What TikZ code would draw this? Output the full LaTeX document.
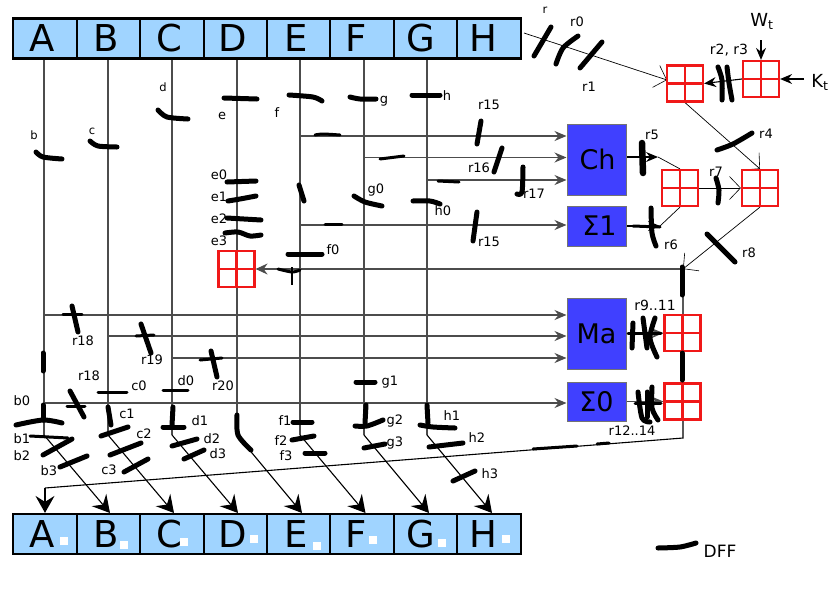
\documentclass[tikz,border=0pt]{standalone}
\usepackage{fontspec}
\setmainfont{DejaVu Sans}
\usetikzlibrary{arrows.meta,backgrounds}
\definecolor{cellblue}{HTML}{A0D4FF}
\definecolor{blockblue}{HTML}{4040FF}
\definecolor{addred}{HTML}{F01818}
\tikzset{
  cell/.style={draw=black,line width=2.2pt,fill=cellblue,minimum height=40pt,inner sep=0pt,font=\fontsize{37}{37}\selectfont},
  block/.style={draw=black!55,line width=1pt,fill=blockblue,minimum width=59pt,inner sep=0pt,font=\fontsize{27}{27}\selectfont},
  adder/.style={draw=addred,line width=2.2pt,minimum size=36pt,inner sep=0pt,
    path picture={\draw[addred,line width=2.2pt] (path picture bounding box.north)--(path picture bounding box.south)
      (path picture bounding box.west)--(path picture bounding box.east);}},
  wire/.style={line width=1.1pt,black!70},
  thinwire/.style={line width=0.7pt,black},
  inar/.style={wire,-{Stealth[length=12pt,width=10pt,inset=4pt]}},
  bigar/.style={line width=1.1pt,black,-{Stealth[length=17pt,width=19pt,inset=6pt]}},
  vee/.style={thinwire,-{Straight Barb[length=11pt,width=23pt,line width=0.6pt]}},
  dff/.style={line width=5pt,black,line cap=round,line join=round},
  dffthin/.style={line width=3pt,black,line cap=round,line join=round},
  small/.style={inner sep=0pt,font=\fontsize{13}{14}\selectfont},
  tiny/.style={inner sep=0pt,font=\fontsize{11.5}{12}\selectfont},
  speck/.style={fill=white,inner sep=0pt,minimum size=7.5pt},
}
\begin{document}
\begin{tikzpicture}[x=1pt,y=-1pt]
\useasboundingbox (0,0) rectangle (836,590);

% registers
\foreach \n/\cx/\w/\s in {A/45/64/-6pt,B/108.5/63/-5pt,C/172/64/-5pt,D/235.5/63/-5pt,E/298.5/63/-5pt,F/362/64/-12pt,G/425.5/63/-10pt,H/489/64/-12pt}{
  \node[cell,minimum width=\w pt] (t\n) at (\cx,38.5) {\hspace*{\s}\n};
  \node[cell,minimum width=\w pt] (b\n) at (\cx,534) {\hspace*{\s}\n};
}

% blocks
\node[block,minimum height=71pt] (ch) at (596.5,159.5) {\hspace*{2pt}Ch};
\node[block,minimum height=40pt] (sone) at (596.5,226) {\hspace*{6pt}Σ1};
\node[block,minimum height=71pt] (ma) at (596.5,333.5) {Ma};
\node[block,minimum height=39pt] (szero) at (596.5,401.5) {Σ0};

% adders
\node[adder] (addh) at (685,83.5) {};
\node[adder] (addwk) at (761,79) {};
\node[adder] (adds) at (680,188) {};
\node[adder] (addt) at (760,188) {};
\node[adder] (adde) at (236.5,269) {};
\node[adder] (addma) at (682.5,333) {};
\node[adder] (addsz) at (682.5,401.5) {};

% named turning points
\foreach \n/\x in {A/44,B/108,C/172,D/237,E/300,F/364,G/427}{
  \coordinate (j\n) at (\x,435);
  \coordinate (s\n) at (\x,60);
}
\coordinate (eB) at (110,513);
\coordinate (eC) at (174,513);
\coordinate (eD) at (238,513);
\coordinate (eE) at (302,513);
\coordinate (eF) at (365.5,513);
\coordinate (eG) at (429,513);
\coordinate (eH) at (492,513);
\coordinate (fb) at (683,269);
\coordinate (fbl) at (683,438);
\coordinate (fbe) at (45,488);
\coordinate (hout) at (524,33);
\coordinate (kin) at (804,79);
\coordinate (win) at (761,40);
\coordinate (addhW) at (667,80);
\coordinate (chO) at (658,157);
\coordinate (soO) at (660,226);

\begin{scope}[on background layer]
  % register columns
  \foreach \n/\m in {A/B,B/C,C/D,D/E,E/F,F/G,G/H}{
    \draw[wire,line join=round] (s\n) -- (j\n);
    \draw[bigar] (j\n) -- (e\m);
  }
  % block inputs
  \draw[inar] (300,136) -- (300,136 -| ch.west);
  \draw[inar] (364,157.5) -- (364,157.5 -| ch.west);
  \draw[inar] (427,180) -- (427,180 -| ch.west);
  \draw[inar] (300,225) -- (300,225 -| sone.west);
  \draw[inar] (44,315) -- (44,315 -| ma.west);
  \draw[inar] (108,336) -- (108,336 -| ma.west);
  \draw[inar] (172,358) -- (172,358 -| ma.west);
  \draw[inar] (44,403) -- (44,403 -| szero.west);
  % feedback
  \draw[wire,-{Stealth[length=12pt,width=11pt,inset=4pt]}] (fb) -- (adde.east);
  \draw[line width=1.1pt,black,line join=miter] (fb) -- (fbl) -- (fbe);
  \draw[bigar] (fbe) -- (bA.north);
  % adders network
  \draw[vee] (hout) -- (addhW);
  \draw[inar,black] (addwk.west) -- (addh.east);
  \draw[inar,black] (kin) -- (addwk.east);
  \draw[inar,black] (win) -- (addwk.north);
  \draw[vee] (addh.south) -- (addt.north);
  \draw[inar,black] (ch.east |- chO) -- (chO);
  \draw[thinwire] (chO) -- (adds.north);
  \draw[inar,black] (sone.east |- soO) -- (soO);
  \draw[thinwire] (soO) -- (adds.south);
  \draw[vee] (adds.east) -- (addt.west);
  \draw[vee] (addt.south) -- (fb);
  \draw[inar] (ma.east) -- (addma.west);
  \draw[inar] (szero.east) -- (addsz.west);
\end{scope}

% DFF strokes
\foreach \p in {
 {(36,152)(43,157)(62,159)},{(90,141)(98,146)(117,147)},{(158,110)(167,117)(188,119)},
 {(224,98)(257,99)},{(289,95)(313,97)(322,101)},{(350,97)(360,99)(376,99)},{(412,95)(440,95)},
 {(227,182)(256,181)},{(228,201)(240,199)(256,196)},{(227,218)(261,220)},{(225,233)(238,232)(250,236)(261,235)},
 {(288,254)(322,254)},{(354,196)(365,202)(382,206)},{(413,201)(430,201)(440,204)},{(299,185)(304,201)},
 {(534,56)(551,27)},{(556,64)(563,48)(578,36)},{(580,68)(602,42)},
 {(718,67)(722,80)(722,100)},{(727,67)(729,83)(732,100)},
 {(481,121)(477,144)},{(502,148)(494,172)},{(523,167)(522,192)(517,194)},{(477,212)(473,241)},
 {(717,150)(733,144)(752,133)},{(716,178)(719,190)(718,203)},
 {(651,208)(652,233)(656,246)},{(707,234)(735,262)},{(682,267)(682,295)},
 {(72,306)(78,332)},{(141,324)(151,353)},{(211,351)(217,377)},{(70,391)(84,417)},
 {(16,425)(43,420)(62,423)},{(43,405)(43,420)},{(43,353)(43,371)},
 {(43,455)(72,439)},{(60,467)(87,456)},
 {(101,436)(128,427)},{(108,407)(111,425)},{(110,455)(141,443)},{(124,472)(148,459)},
 {(163,427)(184,427)},{(173,407)(172,425)},{(172,446)(197,439)},{(184,459)(204,450)},
 {(237,415)(238,435)(251,450)},
 {(293,422)(312,422)},{(292,440)(314,436)},{(305,453)(325,453)},
 {(356,382)(375,382)},{(355,426)(367,426)(383,420)},{(366,405)(365,423)},{(364,448)(385,444)},
 {(420,425)(433,427)(455,428)},{(427,405)(428,423)},{(429,447)(463,443)},{(453,481)(475,471)},
 {(633,323)(632,348)},{(643,318)(647,348)},{(655,318)(650,338)(657,357)},
 {(638,392)(642,418)(650,422)},{(652,387)(652,408)(658,420)},{(647,392)(647,417)},
 {(682,353)(682,380)},{(658,548)(680,547)(696,543)}}{
  \draw[dff] plot[smooth] coordinates {\p};
}
\draw[line width=6.5pt,black,line cap=round] (642,143) -- (643,173);
\foreach \p in {
 {(315,135)(323,134)(340,135)},{(380,159)(404,156)},{(325,224)(342,224)},{(278,269)(292,272)(300,270)},
 {(438,181)(459,182)},{(633,226)(660,227)},
 {(63,314)(82,314)},{(136,336)(154,335)},{(200,360)(222,358)},{(67,406)(85,406)},
 {(98,392)(127,392)},{(163,390)(188,390)},{(30,436)(68,438)},
 {(628,333)(661,333)},{(635,403)(661,403)},{(533,449)(577,446)},{(597,444)(609,443)}}{
  \draw[dffthin] plot[smooth] coordinates {\p};
}
\draw[line width=1.2pt,black] (292,267) -- (292,285);

% specks on the lower register
\foreach \n/\x/\y in {A/64/541,B/124/545,C/184/542,D/254/539,E/317/546,F/373/540,G/442/543,H/506/539}{
  \node[speck] (sp\n) at (\x,\y) {};
}

% labels
\foreach \n/\x/\y/\t in {lb/34/135/b,lc/92/131/c,ld/163/87/d,lr/545/10/r}{
  \node[tiny] (\n) at (\x,\y) {\t};
}
\foreach \n/\x/\y/\t in {
 le/222/116/e,lf/277/113/f,lg/384/101/g,lh/447/96/h,
 le0/219/175/e0,le1/219/197/e1,le2/219/219/e2,le3/219/241/e3,lf0/333/250/f0,lg0/376/190/g0,lh0/443/211/h0,
 lr0/577/22/r0,lr1/589/87/r1,lr15a/489/105/r15,lr16/479/168/r16,lr17/534/194/r17,lr15b/489/242/r15,
 lr5/652/135/r5,lr4/766/134/r4,lr7/716/172/r7,lr6/671/245/r6,lr8/749/253/r8,
 lr18a/83/341/r18,lr19/152/360/r19,lr20/223/386/r20,lr18b/89/376/r18,
 lc0/139/386/c0,ld0/186/381/d0,lb0/22/401/b0,lc1/127/414/c1,ld1/200/421/d1,lg1/390/382/g1,
 lc2/144/434/c2,ld2/212/439/d2,ld3/218/454/d3,lc3/109/470/c3,lb1/22/439/b1,lb2/22/456/b2,lb3/49/471/b3,
 lf1/285/421/f1,lf2/281/441/f2,lf3/286/456/f3,lg2/395/421/g2,lg3/395/443/g3,
 lh1/452/416/h1,lh2/477/438/h2,lh3/490/474/h3,lr12/632/431/r12..14}{
  \node[small] (\n) at (\x,\y) {\t};
}
\node[small,font=\fontsize{14}{15}\selectfont] (lr2) at (729,50) {r2, r3};
\node[small,font=\fontsize{14}{14}\selectfont] (lr9) at (655,305) {r9..11};
\node[inner sep=0pt,font=\fontsize{18}{19}\selectfont] (lw) at (762,21) {W\textsubscript{t}};
\node[inner sep=0pt,font=\fontsize{18}{19}\selectfont] (lk) at (820,82) {K\textsubscript{t}};
\node[inner sep=0pt,font=\fontsize{17}{18}\selectfont] (ldff) at (720,551) {DFF};
\end{tikzpicture}
\end{document}
